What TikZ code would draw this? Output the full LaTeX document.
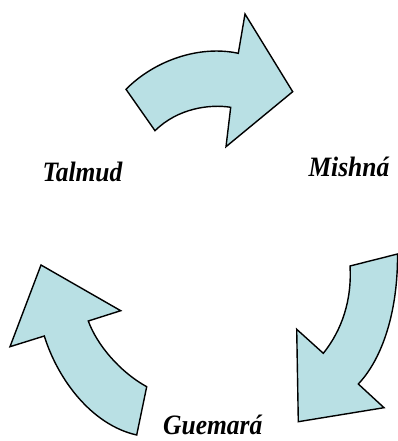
\documentclass[tikz,border=0pt]{standalone}
\usepackage{fontspec}
\setmainfont{Liberation Serif}
\definecolor{arrowfill}{RGB}{185,224,228}
\newcommand{\lbltext}[1]{\scalebox{1}[1.1]{#1}}
\begin{document}
\begin{tikzpicture}[x=1pt,y=-1pt,
  cyc/.style={draw=black,line width=1.4pt,fill=arrowfill,line join=miter},
  lbl/.style={anchor=base west,inner sep=0pt,font=\fontsize{25.5}{26}\selectfont\bfseries\itshape}]
\useasboundingbox (0,0) rectangle (398,441);
% top arrow
\draw[cyc] (126,89.3) .. controls (155,60) and (200,45) .. (238.3,53.3)
  -- (245,14) -- (292.7,91.7) -- (226,146.7) -- (230.7,107.3)
  .. controls (210,104) and (178,108) .. (155,130.7) -- cycle;
% right arrow
\draw[cyc] (350,266) .. controls (352,300) and (342,330) .. (323.3,353.3)
  -- (296.7,329.3) -- (298.3,421.7) -- (384,407.7) -- (358.3,384)
  .. controls (383,358) and (398,310) .. (397.5,254) -- cycle;
% left arrow
\draw[cyc] (41,265) -- (120.7,310.7) -- (88.3,321)
  .. controls (97,345) and (120,372) .. (146.7,386.7)
  -- (136.7,435) .. controls (92,425) and (58,380) .. (44.3,336)
  -- (10,346.7) -- cycle;
\node[lbl] (talmud) at (42.3,181.7) {\lbltext{Talmud}};
\node[lbl] (mishna) at (308.3,176) {\lbltext{Mishná}};
\node[lbl] (guemara) at (163,434.5) {\lbltext{Guemará}};
\end{tikzpicture}
\end{document}
